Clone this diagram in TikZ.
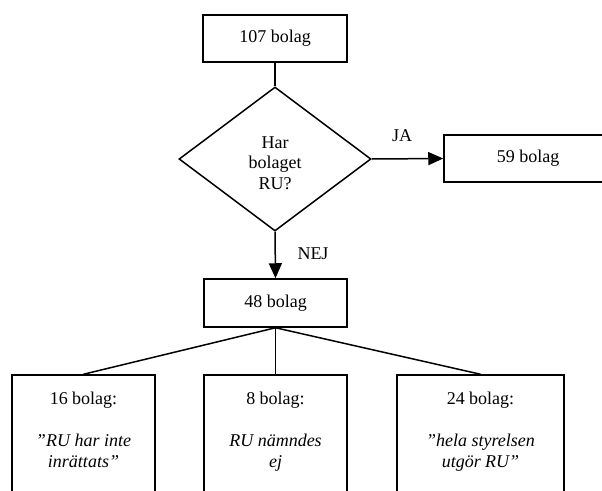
\documentclass[tikz,border=0pt]{standalone}
\usepackage{fontspec}
\setmainfont{Liberation Serif}
\usetikzlibrary{shapes.geometric,arrows.meta}
\begin{document}
\begin{tikzpicture}[x=1pt,y=-1pt,
  every node/.style={font=\fontsize{18}{20.5}\selectfont},
  box/.style={draw,line width=1.5pt,rectangle,inner sep=0pt,minimum height=47pt},
  leafbox/.style={draw,line width=1.5pt,rectangle,inner sep=0pt,minimum height=130pt},
  decision/.style={draw,line width=1.5pt,diamond,inner sep=0pt,minimum width=192pt,minimum height=144pt},
  txt/.style={inner sep=0pt,anchor=base},
  conn/.style={line width=1.5pt},
  arr/.style={line width=1.5pt,-{Triangle[length=15pt,width=13pt]}}
]
\useasboundingbox (0,0) rectangle (602,490);
\node[box,minimum width=144pt] (top) at (275,38.5) {107 bolag};
\node[decision] (dia) at (275,159) {};
\node[txt] (q) at (275,148) {\renewcommand\arraystretch{1}\setlength\tabcolsep{0pt}\begin{tabular}[t]{c}Har\\bolaget\\RU?\end{tabular}};
\node[box,minimum width=168pt] (yes) at (528,158.5) {59 bolag};
\node[box,minimum width=143pt,minimum height=48pt] (mid) at (275.5,303) {48 bolag};
\node[leafbox,minimum width=143pt] (l) at (83.5,440) {};
\node[leafbox,minimum width=143pt] (c) at (275.5,440) {};
\node[leafbox,minimum width=167pt] (r) at (480.5,440) {};
\node[txt] (lt) at (83.5,404) {\setlength\tabcolsep{0pt}\begin{tabular}[t]{c}16 bolag:\\[22pt]\itshape ”RU har inte\\\itshape inrättats”\end{tabular}};
\node[txt] (ct) at (275.5,404) {\setlength\tabcolsep{0pt}\begin{tabular}[t]{c}8 bolag:\\[22pt]\itshape RU nämndes\\\itshape ej\end{tabular}};
\node[txt] (rt) at (480.5,404) {\setlength\tabcolsep{0pt}\begin{tabular}[t]{c}24 bolag:\\[22pt]\itshape ”hela styrelsen\\\itshape utgör RU”\end{tabular}};
\node[txt] (ja) at (402,141) {JA};
\node[txt] (nej) at (313,259) {NEJ};
\draw[conn] (top.south) -- (dia.north);
\draw[arr] (dia.east) -- (yes.west);
\draw[arr] (dia.south) -- (mid.north);
\draw[conn] (mid.south) -- (l.north);
\draw[conn] (mid.south) -- (c.north);
\draw[conn] (mid.south) -- (r.north);
\end{tikzpicture}
\end{document}
